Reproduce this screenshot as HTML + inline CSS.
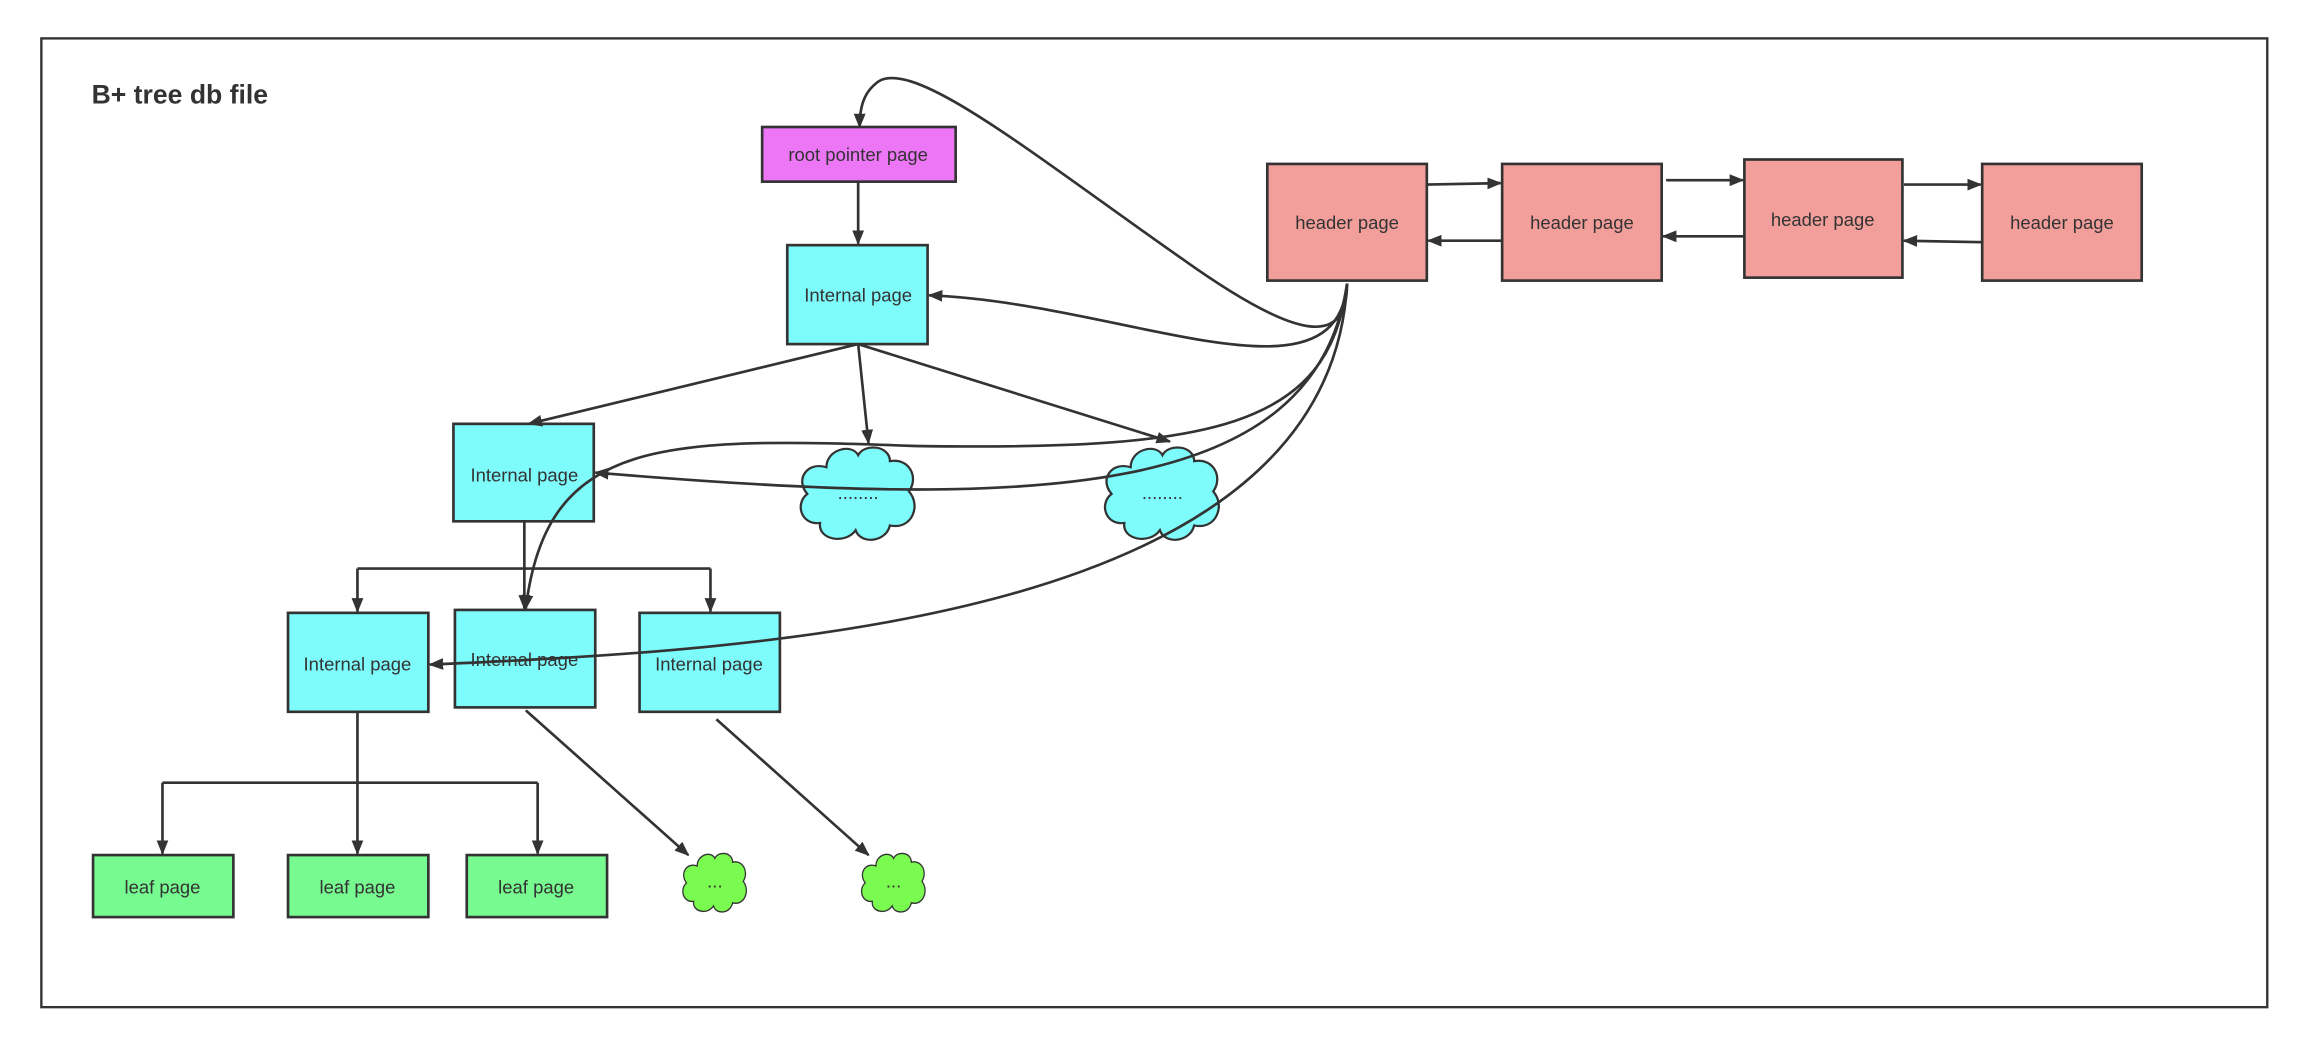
<!DOCTYPE html>
<html><head><meta charset="utf-8"><style>
html,body{margin:0;padding:0;background:#fff;width:2316px;height:1050px;overflow:hidden}
svg{display:block}
text{font-family:"Liberation Sans",sans-serif;fill:#333;font-size:12.5px}
</style></head><body>
<svg width="2316" height="1050" viewBox="0 0 1568 711" preserveAspectRatio="none" xmlns="http://www.w3.org/2000/svg">
<defs>
<marker id="a" markerWidth="10" markerHeight="10" refX="9" refY="5" orient="auto" markerUnits="userSpaceOnUse"><path d="M0,1 L10,5 L0,9 Z" fill="#333"/></marker>
<path id="cl" d="M25,20 C25,5 45,0 50,10 C55,0 75,2 75,15 C90,12 98,28 90,40 C100,52 92,72 75,68 C72,82 52,84 48,72 C40,84 18,80 20,66 C5,68 0,50 10,42 C0,30 10,15 25,20 Z"/>
</defs>
<rect x="28" y="26" width="1507" height="656" fill="#fff" stroke="#333" stroke-width="1.6"/>
<text x="62" y="70" style="font-size:18px;font-weight:bold">B+ tree db file</text>

<g stroke="#333" stroke-width="1.8">
<rect x="516" y="86" width="131" height="37" fill="#ec76f6"/>
<rect x="533" y="166" width="95" height="67" fill="#7efcfc"/>
<rect x="307" y="287" width="95" height="66" fill="#7efcfc"/>
<rect x="195" y="415" width="95" height="67" fill="#7efcfc"/>
<rect x="308" y="413" width="95" height="66" fill="#7efcfc"/>
<rect x="433" y="415" width="95" height="67" fill="#7efcfc"/>
<rect x="63" y="579" width="95" height="42" fill="#77fa90"/>
<rect x="195" y="579" width="95" height="42" fill="#77fa90"/>
<rect x="316" y="579" width="95" height="42" fill="#77fa90"/>
<rect x="858" y="111" width="108" height="79" fill="#f29f9b"/>
<rect x="1017" y="111" width="108" height="79" fill="#f29f9b"/>
<rect x="1181" y="108" width="107" height="80" fill="#f29f9b"/>
<rect x="1342" y="111" width="108" height="79" fill="#f29f9b"/>
</g>
<g stroke="#333" stroke-width="1.8" fill="#7efcfc">
<use href="#cl" transform="translate(538,300) scale(0.86,0.82)" vector-effect="non-scaling-stroke"/>
<use href="#cl" transform="translate(744,300) scale(0.86,0.82)"/>
</g>
<g stroke="#333" stroke-width="1.8" fill="#7afb4f">
<use href="#cl" transform="translate(460,576) scale(0.48,0.52)"/>
<use href="#cl" transform="translate(581,576) scale(0.48,0.52)"/>
</g>

<g text-anchor="middle">
<text x="581" y="109">root pointer page</text>
<text x="581" y="204">Internal page</text>
<text x="355" y="326">Internal page</text>
<text x="242" y="454">Internal page</text>
<text x="355" y="451">Internal page</text>
<text x="480" y="454">Internal page</text>
<text x="110" y="605">leaf page</text>
<text x="242" y="605">leaf page</text>
<text x="363" y="605">leaf page</text>
<text x="912" y="155">header page</text>
<text x="1071" y="155">header page</text>
<text x="1234" y="153">header page</text>
<text x="1396" y="155">header page</text>
<text x="581" y="338">........</text>
<text x="787" y="338">........</text>
<text x="484" y="601">...</text>
<text x="605" y="601">...</text>
</g>

<g stroke="#333" stroke-width="1.8" fill="none" marker-end="url(#a)">
<path d="M581,123 L581,165"/>
<path d="M581,233 L358,287"/>
<path d="M581,233 L588,300"/>
<path d="M581,233 L792,299"/>
<path d="M355,353 L355,385 M242,385 L481,385" marker-end="none"/>
<path d="M242,385 L242,414"/>
<path d="M355,385 L355,412"/>
<path d="M481,385 L481,414"/>
<path d="M242,482 L242,530 M110,530 L364,530" marker-end="none"/>
<path d="M110,530 L110,578"/>
<path d="M242,530 L242,578"/>
<path d="M364,530 L364,578"/>
<path d="M356,481 L466,579"/>
<path d="M485,487 L588,579"/>
<path d="M966,125 L1016,124"/>
<path d="M1017,163 L967,163"/>
<path d="M1128,122 L1180,122"/>
<path d="M1181,160 L1126,160"/>
<path d="M1289,125 L1341,125"/>
<path d="M1342,164 L1289,163"/>
<path d="M912,192 C912,240 870,225 800,175 C700,105 620,40 595,55 C585,62 582,72 582,86"/>
<path d="M912,192 C905,280 760,205 629,200"/>
<path d="M912,192 C900,290 820,305 620,302 C450,296 370,295 356,412"/>
<path d="M912,192 C890,340 700,345 403,320"/>
<path d="M912,192 C900,420 520,440 291,450"/>
</g>
</svg>
</body></html>
